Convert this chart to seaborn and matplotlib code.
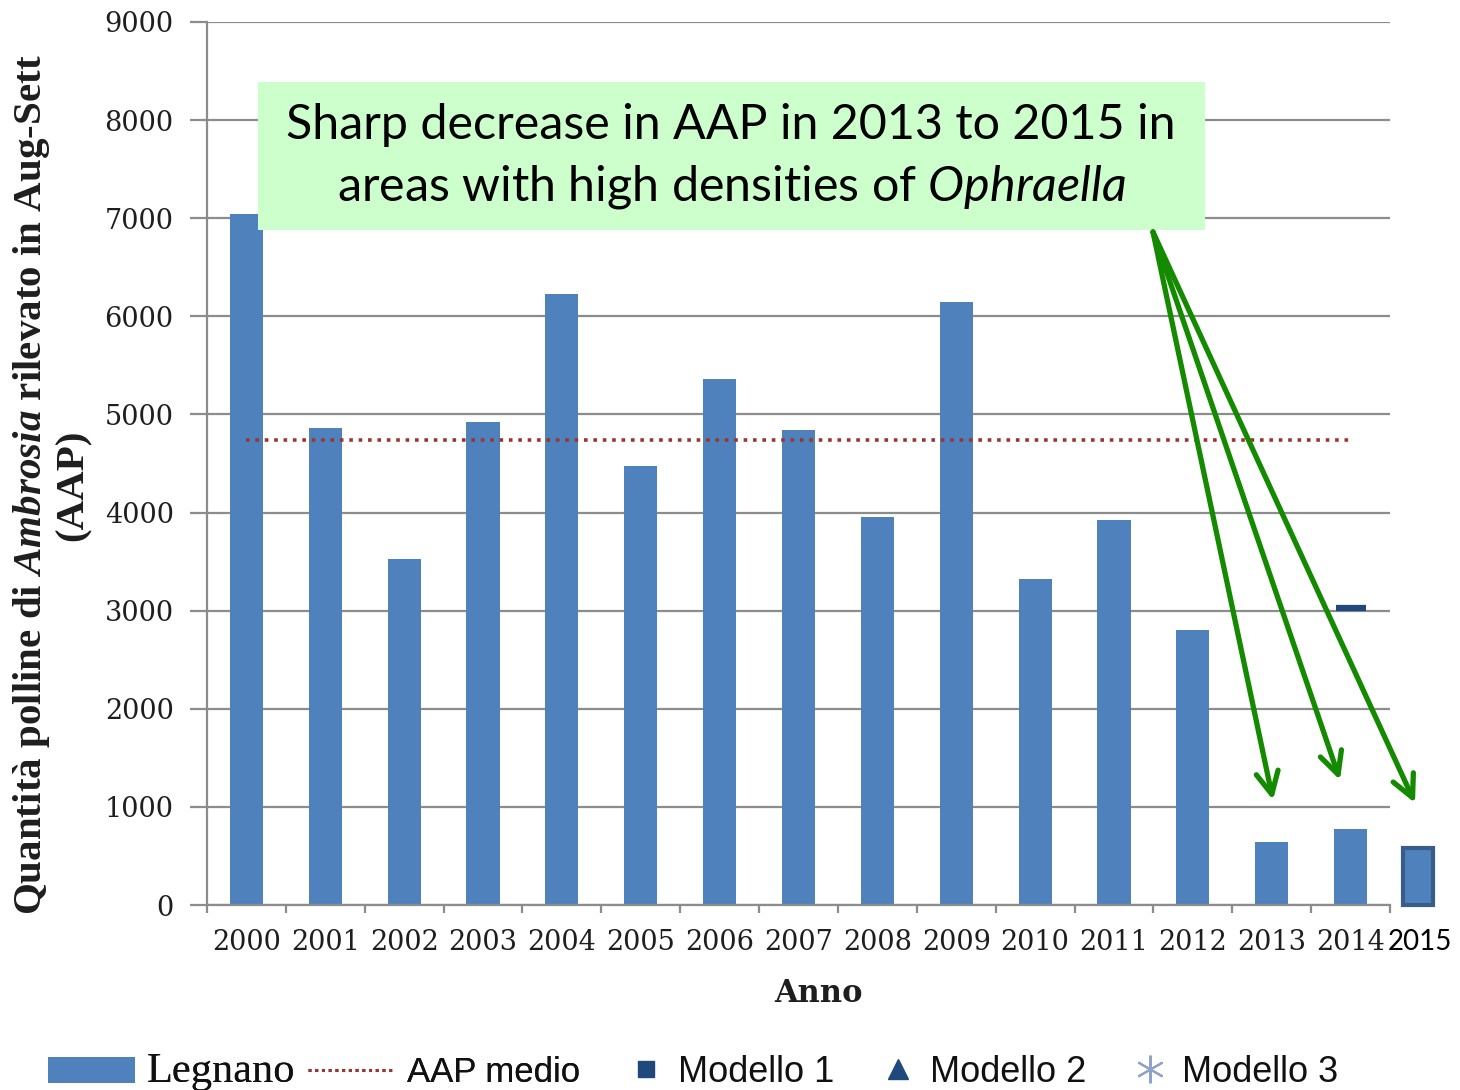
import matplotlib
matplotlib.use("Agg")
import matplotlib.pyplot as plt
import seaborn as sns
import numpy as np
from matplotlib.lines import Line2D
from matplotlib.patches import Patch, Rectangle

# AAP (Aug-Sett) recorded at Legnano
years = ["2000", "2001", "2002", "2003", "2004", "2005", "2006", "2007",
         "2008", "2009", "2010", "2011", "2012", "2013", "2014"]
aap_legnano = [7040, 4860, 3530, 4920, 6230, 4470, 5360, 4840,
               3950, 6150, 3320, 3920, 2800, 640, 775]
aap_medio = 4740
modello1_2014 = 3030
year_extra = "2015"
aap_extra = 580

BAR_BLUE = "#4f81bd"
DARK_BLUE = "#1f497d"
GRID_GREY = "#8c8c8c"
ARROW_GREEN = "#148a00"
MEAN_RED = "#953735"

sns.set_theme(style="white")
plt.rcParams.update({
    "font.family": ["DejaVu Serif", "DejaVu Sans"],
    "mathtext.fontset": "custom",
    "mathtext.it": "Liberation Serif:italic:bold",
    "mathtext.sf": "Lato:italic",
    "mathtext.rm": "Liberation Serif:bold",
})

W, H = 1460, 1090
fig = plt.figure(figsize=(W / 100, H / 100), dpi=100)
fig.patch.set_facecolor("white")


def fx(px):
    return px / W


def fy(py):
    return 1 - py / H


ax = fig.add_axes([fx(207), fy(905), fx(1390) - fx(207), fy(22) - fy(905)])
ax.set_facecolor("white")

sns.barplot(x=years, y=aap_legnano, color=BAR_BLUE, saturation=1,
            width=0.42, linewidth=0, ax=ax, zorder=2)

# mean line
ax.hlines(aap_medio, 0, len(years) - 1, colors=MEAN_RED, lw=2.6,
          linestyles=(0, (1, 1.6)), zorder=3)

# Modello 1 estimate for 2014
ax.plot([len(years) - 1], [modello1_2014], marker="_", ms=22, mew=4.5,
        color=DARK_BLUE, zorder=4, clip_on=False)

# 2015 bar drawn beyond the axis end
x_extra = len(years) - 0.15
ax.bar([x_extra], [aap_extra], width=0.38, color=BAR_BLUE,
       edgecolor="#385d8a", linewidth=3, clip_on=False, zorder=4)
ax.text(x_extra + 0.03, -0.027, year_extra, transform=ax.get_xaxis_transform(),
        ha="center", va="top", fontsize=20, family=["Lato", "DejaVu Sans"],
        color="black", clip_on=False)

ax.set_xlim(-0.5, len(years) - 0.5)
ax.set_ylim(0, 9000)
ax.set_yticks(np.arange(0, 9001, 1000))
ax.yaxis.grid(True, color=GRID_GREY, lw=1.6)
ax.xaxis.grid(False)
ax.set_axisbelow(True)

for side in ["top", "right"]:
    ax.spines[side].set_visible(False)
for side in ["left", "bottom"]:
    ax.spines[side].set_color(GRID_GREY)
    ax.spines[side].set_linewidth(1.6)

ax.tick_params(axis="y", which="major", direction="out", length=12,
               width=1.6, color=GRID_GREY, pad=12, labelsize=19.5,
               labelcolor="#1e1e1e", left=True)
ax.set_xticks(np.arange(-0.5, len(years), 1.0), minor=True)
ax.tick_params(axis="x", which="minor", direction="out", length=6,
               width=1.6, color=GRID_GREY, bottom=True)
ax.tick_params(axis="x", which="major", length=0, pad=17, labelsize=19.5,
               labelcolor="#1e1e1e")
for lab in ax.get_yticklabels() + ax.get_xticklabels():
    lab.set_family("DejaVu Serif")

ax.set_xlabel("")
ax.set_ylabel("")

# axis titles
fig.text(fx(819), fy(993), "Anno", ha="center", va="center", fontsize=22,
         fontweight="bold", family="DejaVu Serif", color="#1e1e1e")
fig.text(fx(51), fy(485),
         "Quantità polline di $\\mathit{Ambrosia}$ rilevato in Aug-Sett\n(AAP)",
         rotation=90, ha="center", va="center", fontsize=29.5,
         fontweight="bold", family="Liberation Serif", color="#1e1e1e",
         linespacing=1.1, multialignment="center")

# highlighted note
ax.add_patch(Rectangle((fx(258), fy(230)), fx(1205) - fx(258),
                       fy(82) - fy(230), transform=fig.transFigure,
                       facecolor="#ccffcc", edgecolor="none", zorder=10,
                       clip_on=False))
fig.text(fx(731), fy(125), "Sharp decrease in AAP in 2013 to 2015 in",
         ha="center", va="center", fontsize=34.8, family="Lato",
         color="black", zorder=11)
fig.text(fx(731), fy(187), "areas with high densities of $\\mathsf{Ophraella}$",
         ha="center", va="center", fontsize=34.8, family="Lato",
         color="black", zorder=11)

start = (1153, H - 232)
for end in [(1273, H - 800), (1340, H - 780), (1415, H - 803)]:
    ax.annotate("", xy=end, xytext=start, xycoords="figure pixels",
                textcoords="figure pixels", annotation_clip=False,
                arrowprops=dict(arrowstyle="->", lw=3.8, color=ARROW_GREEN,
                                mutation_scale=40, shrinkA=0, shrinkB=0),
                zorder=12)

# legend: observed series
leg1 = fig.legend(
    [Patch(facecolor=BAR_BLUE, edgecolor="none"),
     Line2D([], [], color=MEAN_RED, lw=2.2, linestyle=(0, (1, 1.2)))],
    ["Legnano", "AAP medio"], ncol=2, loc="center left",
    bbox_to_anchor=(fx(48), fy(1072)), frameon=False, fontsize=25,
    handlelength=2.5, handleheight=0.75, handletextpad=0.35,
    columnspacing=0.37, borderaxespad=0, borderpad=0)
for i, t in enumerate(leg1.get_texts()):
    t.set_color("#111111")
    if i == 0:
        t.set_family("Liberation Serif")
        t.set_fontsize(30.5)
    else:
        t.set_family("Liberation Sans")

# legend: model estimates
leg2 = fig.legend(
    [Line2D([], [], color=DARK_BLUE, marker="s", ms=12, lw=0),
     Line2D([], [], color=DARK_BLUE, marker="^", ms=14, lw=0),
     Line2D([], [], color="#8ea3c6", marker=(6, 2, 0), ms=20, mew=1.5, lw=0)],
    ["Modello 1", "Modello 2", "Modello 3"], ncol=3, loc="center left",
    bbox_to_anchor=(fx(624), fy(1072)), frameon=False, fontsize=26,
    handlelength=1.2, handletextpad=0.3, columnspacing=1.15,
    borderaxespad=0, borderpad=0)
for t in leg2.get_texts():
    t.set_color("#111111")
    t.set_family("Liberation Sans")
fig.add_artist(leg1)

fig.savefig("out.png", dpi=100, facecolor="white")
